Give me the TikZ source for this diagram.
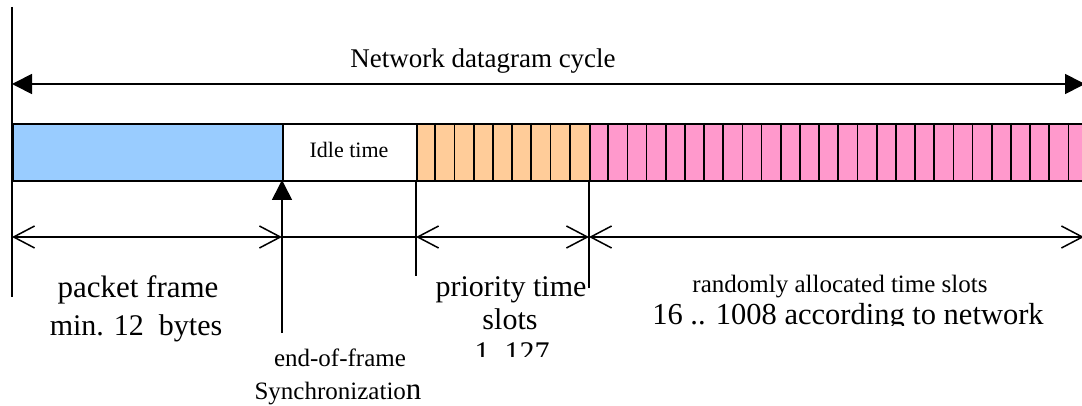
\documentclass[tikz,border=0pt]{standalone}
\usepackage{fontspec}
\setmainfont{Liberation Serif}
\usetikzlibrary{arrows.meta,calc}
\definecolor{frameblue}{HTML}{99CCFF}
\definecolor{prioorange}{HTML}{FFCC99}
\definecolor{randpink}{HTML}{FF99CC}
\tikzset{
  seg/.style={draw=black, line width=1.7pt, inner sep=0pt, minimum height=57pt, anchor=north west},
  cellline/.style={draw=black, line width=1.7pt},
  dimline/.style={draw=black, line width=1.7pt},
  barb/.tip={Straight Barb[length=21pt,width=22pt,line width=1.5pt]},
  tri/.tip={Triangle[length=20pt,width=20pt]},
  lbl/.style={inner sep=0pt, anchor=base},
}
\begin{document}
\begin{tikzpicture}[x=1pt,y=-1pt]
\useasboundingbox (0,0) rectangle (1082,406);
% bar segments
\node[seg, fill=frameblue, minimum width=270pt] (frame) at (12,123) {};
\node[seg, fill=white, minimum width=134pt] (idle) at (282,123) {};
\node[seg, fill=prioorange, minimum width=173pt] (prio) at (416,123) {};
\node[seg, fill=randpink, minimum width=500pt] (rand) at (589,123) {};
\node[lbl, font=\fontsize{22}{26}\selectfont] (idletxt) at (349,158) {Idle time};
% slot dividers
\foreach \i in {1,...,8} {
  \draw[cellline] ($(prio.north west)+(\i*19.22,0)$) -- ($(prio.south west)+(\i*19.22,0)$);
}
\foreach \i in {1,...,25} {
  \draw[cellline] ($(rand.north west)+(\i*19.18,0)$) -- ($(rand.south west)+(\i*19.18,0)$);
}
% coordinates
\coordinate (ltop) at (12,7);
\coordinate (lbot) at (12,297);
\coordinate (cycL) at (12,84);
\coordinate (cycR) at (1085,84);
\coordinate (eofT) at (282,180);
\coordinate (eofB) at (282,333);
\coordinate (p1T) at (416,180);
\coordinate (p1B) at (416,276);
\coordinate (p2T) at (589,180);
\coordinate (p2B) at (589,288);
\coordinate (d0) at (12,237);
\coordinate (d1) at (282,237);
\coordinate (d2) at (416,237);
\coordinate (d3) at (589,237);
\coordinate (d4) at (1084,237);
% vertical lines
\draw[dimline, line width=1.6pt] (ltop) -- (lbot);
\draw[dimline, line width=1.6pt, -{tri}] (eofB) -- (eofT);
\draw[dimline, line width=1.6pt] (p1T) -- (p1B);
\draw[dimline, line width=1.6pt] (p2T) -- (p2B);
% cycle arrow
\draw[dimline, {tri}-{tri}] (cycL) -- (cycR);
% dimension arrows
\draw[dimline, {barb}-{barb}] (d0) -- (d1);
\draw[dimline] (d1) -- (d2);
\draw[dimline, {barb}-{barb}] (d2) -- (d3);
\draw[dimline, {barb}-{barb}] (d3) -- (d4);
% labels
\node[lbl, font=\fontsize{27}{32}\selectfont] (title) at (483,68) {Network datagram cycle};
\node[lbl, font=\fontsize{31}{37}\selectfont] (pf1) at (138,298) {packet frame};
\node[lbl, font=\fontsize{30}{36}\selectfont] (pf2) at (136,335) {min. 12\ \ bytes};
\node[lbl, font=\fontsize{25}{30}\selectfont] (eof1) at (340,366) {end-of-frame};
\node[lbl, font=\fontsize{25}{30}\selectfont] (eof2) at (338,399) {Synchronizatio{\fontsize{31}{36}\selectfont n}};
\node[lbl, font=\fontsize{30}{36}\selectfont] (pr1) at (511,297) {priority time};
\node[lbl, font=\fontsize{30}{36}\selectfont] (pr2) at (510,329) {slots};
\begin{scope}
\clip (430,300) rectangle (600,356.5);
\node[lbl, font=\fontsize{30}{36}\selectfont] (pr3) at (512,362) {1..127};
\end{scope}
\node[lbl, font=\fontsize{25}{30}\selectfont] (ra1) at (840,292) {randomly allocated time slots};
\begin{scope}
\clip (600,295) rectangle (1082,325);
\node[lbl, font=\fontsize{30.5}{36}\selectfont] (ra2) at (848,324) {16 .. 1008 according to network};
\end{scope}
\end{tikzpicture}
\end{document}
